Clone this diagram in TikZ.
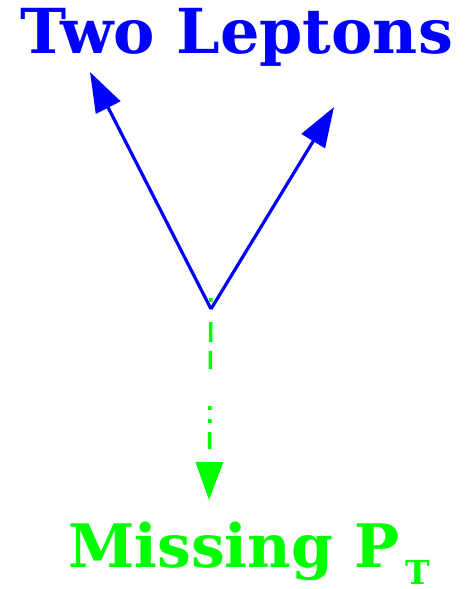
\documentclass[tikz,border=0pt]{standalone}
\usepackage{fontspec}
\setmainfont{DejaVu Serif}
\usetikzlibrary{arrows.meta, positioning}
\definecolor{lepblue}{RGB}{0,0,255}
\definecolor{ptgreen}{RGB}{0,255,0}
\tikzset{
  lepton ray/.style={
    -{Triangle[length=40pt, width=27pt]},
    line width=3.2pt,
    color=lepblue
  },
  missing ray/.style={
    -{Triangle[length=38pt, width=27pt]},
    line width=3.5pt,
    color=ptgreen,
    dash pattern=on 4pt off 20pt on 20pt off 9pt on 18pt off 37pt on 4pt off 9pt on 4pt off 9pt on 17pt off 20pt
  },
  label text/.style={
    inner sep=0pt,
    font=\bfseries
  }
}

\begin{document}
\begin{tikzpicture}[x=1pt, y=-1pt]
    \useasboundingbox (0,0) rectangle (472,589);

    % 顶点与箭头端点
    \coordinate (vtx) at (211,309);
    \coordinate (lepA) at (90,72);
    \coordinate (lepB) at (334,107);
    \coordinate (ptTip) at (209,500);

    % 标签
    \node[label text, anchor=base, text=lepblue] (leptons) at (237,53)
      {\fontsize{62}{70}\selectfont Two Leptons};
    \node[label text, anchor=base west, text=ptgreen] (missing) at (68,567)
      {\fontsize{60}{70}\selectfont Missing P\hspace{6pt}\raisebox{-17pt}{\fontsize{33}{34}\selectfont T}};

    % 丢失横动量 (绿色点划线)
    \draw[missing ray] (vtx) ++(0,-11) -- (ptTip);

    % 两个轻子
    \draw[lepton ray] (vtx) -- (lepA);
    \draw[lepton ray] (vtx) -- (lepB);

  \end{tikzpicture}
\end{document}
